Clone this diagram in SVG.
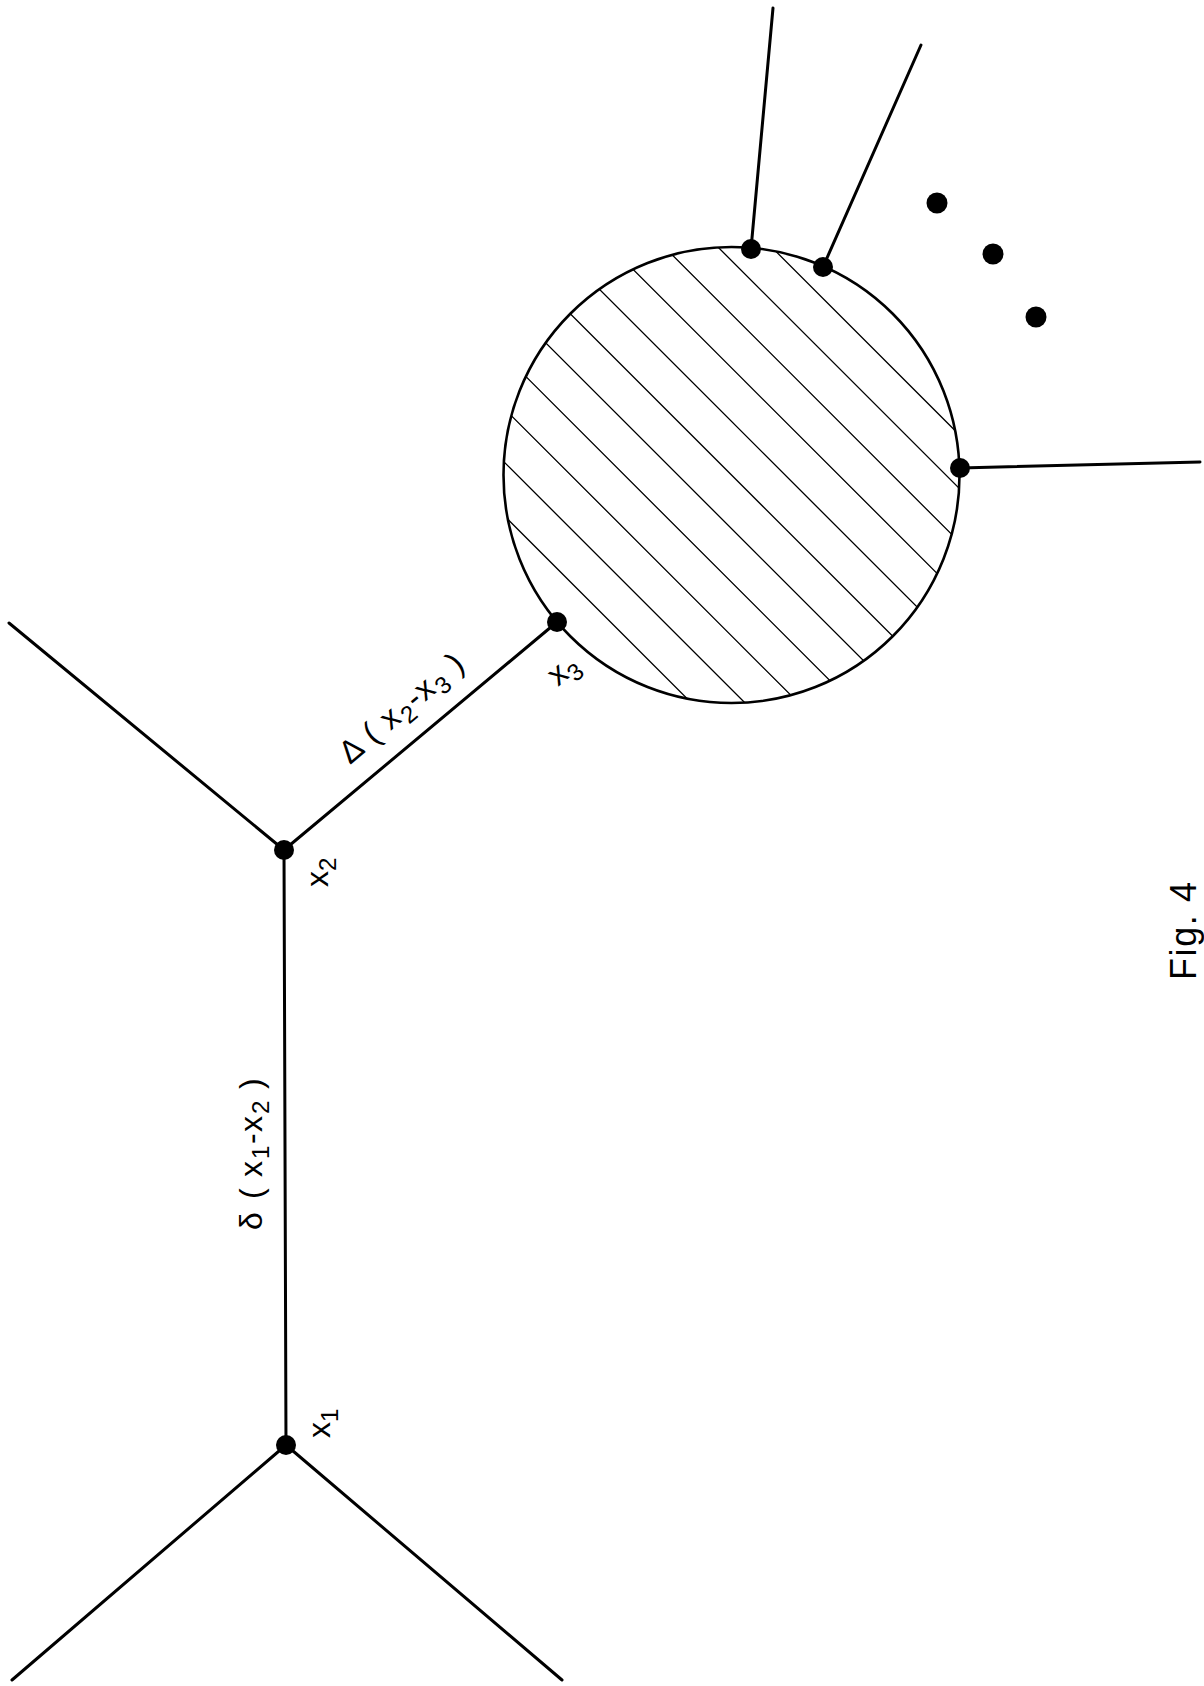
<svg xmlns="http://www.w3.org/2000/svg" width="1204" height="1686" viewBox="0 0 1204 1686">
  <style>
    .edge { stroke: #000; stroke-width: 3; fill: none; stroke-linecap: round; }
    .hatch { stroke: #000; stroke-width: 1.3; fill: none; }
    .rim { stroke: #000; stroke-width: 2.6; fill: none; }
    .dot { fill: #000; }
    .lbl { font-family: "Liberation Sans", Arial, sans-serif; font-size: 32px; fill: #000; }
    .sub { font-size: 24px; }
  </style>
  <defs>
    <clipPath id="blobClip">
      <circle cx="731.5" cy="475" r="228"/>
    </clipPath>
  </defs>
  <rect width="1204" height="1686" fill="#fff"/>

  <g id="connectors">
    <line class="edge" x1="286" y1="1445" x2="12" y2="1680"/>
    <line class="edge" x1="286" y1="1445" x2="562" y2="1680"/>
    <line class="edge" x1="286" y1="1445" x2="284" y2="850"/>
    <line class="edge" x1="284" y1="850" x2="9" y2="623"/>
    <line class="edge" x1="284" y1="850" x2="557" y2="622"/>
    <line class="edge" x1="751" y1="249" x2="773" y2="8"/>
    <line class="edge" x1="823" y1="267" x2="921" y2="45"/>
    <line class="edge" x1="960" y1="468" x2="1200" y2="462"/>
  </g>

  <g id="blob">
    <path class="hatch" clip-path="url(#blobClip)" d="M188.5,200 L738.5,750 M242.1,200 L792.1,750 M295.7,200 L845.7,750 M349.3,200 L899.3,750 M402.9,200 L952.9,750 M456.5,200 L1006.5,750 M510.1,200 L1060.1,750 M563.7,200 L1113.7,750 M617.3,200 L1167.3,750 M670.9,200 L1220.9,750 M724.5,200 L1274.5,750"/>
    <circle class="rim" cx="731.5" cy="475" r="228"/>
  </g>

  <g id="node-x1"><circle class="dot" cx="286" cy="1445" r="10"/></g>
  <g id="node-x2"><circle class="dot" cx="284" cy="850" r="10"/></g>
  <g id="node-x3"><circle class="dot" cx="557" cy="622" r="10"/></g>
  <g id="node-p1"><circle class="dot" cx="751" cy="249" r="10"/></g>
  <g id="node-p2"><circle class="dot" cx="823" cy="267" r="10"/></g>
  <g id="node-p3"><circle class="dot" cx="960" cy="468" r="10"/></g>
  <g id="ellipsis">
    <circle class="dot" cx="937" cy="203" r="10.5"/>
    <circle class="dot" cx="993" cy="254" r="10.5"/>
    <circle class="dot" cx="1036" cy="317" r="10.5"/>
  </g>

  <g id="labels">
    <text class="lbl" transform="translate(330,1438) rotate(-90)">x<tspan class="sub" dy="8">1</tspan></text>
    <text class="lbl" transform="translate(328,887) rotate(-90)">x<tspan class="sub" dy="8">2</tspan></text>
    <text class="lbl" transform="translate(558,687) rotate(-40)">x<tspan class="sub" dy="8">3</tspan></text>
    <text class="lbl" transform="translate(262,1230) rotate(-90)"><tspan x="0" y="0">δ</tspan><tspan x="31" y="0">(</tspan><tspan x="53" y="0">x</tspan><tspan class="sub" x="71" y="7">1</tspan><tspan x="86" y="0">-</tspan><tspan x="98" y="0">x</tspan><tspan class="sub" x="116" y="7">2</tspan><tspan x="141" y="0">)</tspan></text>
    <text class="lbl" transform="translate(350,765) rotate(-40)"><tspan x="0" y="0">Δ</tspan><tspan x="31" y="0">(</tspan><tspan x="53" y="0">x</tspan><tspan class="sub" x="71" y="7">2</tspan><tspan x="86" y="0">-</tspan><tspan x="98" y="0">x</tspan><tspan class="sub" x="116" y="7">3</tspan><tspan x="141" y="0">)</tspan></text>
    <text class="lbl" transform="translate(1196,980) rotate(-90)" style="font-size:36px" textLength="98" lengthAdjust="spacing">Fig. 4</text>
  </g>
</svg>
